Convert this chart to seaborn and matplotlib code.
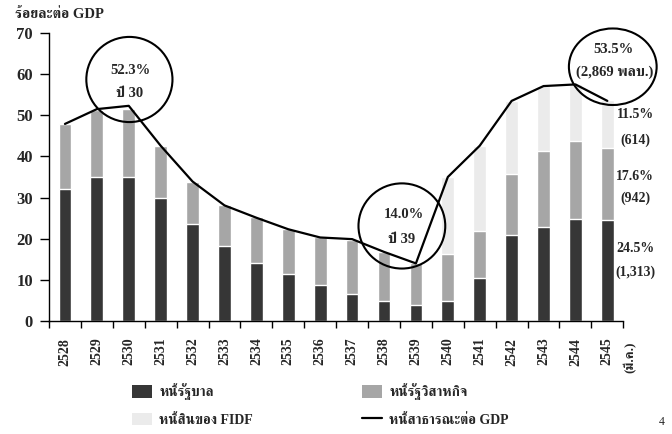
import numpy as np
import pandas as pd
import matplotlib
matplotlib.use("Agg")
import matplotlib.pyplot as plt
import matplotlib.font_manager as fm
from matplotlib.patches import Ellipse, Patch
from matplotlib.lines import Line2D
import seaborn as sns
from fontTools.ttLib import TTFont

# ---- data (percent of GDP) ----
years = ['2528', '2529', '2530', '2531', '2532', '2533', '2534', '2535', '2536',
         '2537', '2538', '2539', '2540', '2541', '2542', '2543', '2544', '2545']
gov_debt = [32.0, 34.9, 34.9, 29.8, 23.5, 18.2, 14.0, 11.4, 8.7,
            6.5, 4.8, 3.9, 4.8, 10.4, 20.8, 22.8, 24.7, 24.5]
soe_debt = [15.9, 16.4, 16.7, 12.8, 10.4, 9.9, 11.2, 10.9, 11.6,
            13.3, 12.0, 10.1, 11.4, 11.4, 15.0, 18.4, 19.1, 17.6]
fidf_debt = [0, 0, 0, 0, 0, 0, 0, 0, 0,
             0, 0, 0, 18.7, 20.8, 17.7, 15.9, 13.7, 11.5]
public_debt_gdp = [47.9, 51.5, 52.3, 42.6, 33.9, 28.1, 25.1, 22.3, 20.3,
                   19.9, 16.8, 14.0, 35.0, 42.6, 53.5, 57.1, 57.5, 53.5]

legend_labels = ['หนี้รัฐบาล', 'หนี้รัฐวิสาหกิจ', 'หนี้สินของ FIDF', 'หนี้สาธารณะต่อ GDP']
y_ticks = [0, 10, 20, 30, 40, 50, 60, 70]

DARK, MID, LIGHT = '#363636', '#a6a6a6', '#ebebeb'


def find_thai_family():
    serif, other = [], []
    for f in fm.fontManager.ttflist:
        try:
            cmap = TTFont(f.fname, fontNumber=0, lazy=True).getBestCmap()
        except Exception:
            continue
        if cmap and 0x0E2B in cmap and 0x0E35 in cmap and 0x0E49 in cmap:
            (serif if 'Serif' in f.name else other).append(f.name)
    found = serif + other
    return found[0] if found else 'DejaVu Sans'


sns.set_style('ticks')
thai = find_thai_family()
plt.rcParams['font.family'] = ['Liberation Serif', thai, 'DejaVu Sans']
plt.rcParams['font.weight'] = 'bold'

df = pd.DataFrame({'year': years, 'gov': gov_debt, 'soe': soe_debt, 'fidf': fidf_debt})
df['gov_soe'] = df['gov'] + df['soe']
df['total'] = df['gov_soe'] + df['fidf']

W, H = 672, 434
fig = plt.figure(figsize=(W / 100, H / 100), dpi=100)
x0, x1, y0, y1 = 49, 623.3, 321, 33
ax = fig.add_axes([x0 / W, (H - y0) / H, (x1 - x0) / W, (y0 - y1) / H])

# stacked bars drawn as overlapping cumulative heights
bar_kw = dict(data=df, x='year', width=0.4, saturation=1, errorbar=None, ax=ax)
sns.barplot(y='total', color=LIGHT, **bar_kw)
sns.barplot(y='gov_soe', color=MID, **bar_kw)
sns.barplot(y='gov', color=DARK, **bar_kw)

sns.lineplot(x=np.arange(len(years)), y=public_debt_gdp, color='black',
             linewidth=1.6, ax=ax)

ax.set_xlim(-0.5, len(years) - 0.5)
ax.set_ylim(0, 70)
ax.set_xlabel('')
ax.set_ylabel('')
sns.despine(ax=ax)
for side in ('left', 'bottom'):
    ax.spines[side].set_linewidth(1.0)
    ax.spines[side].set_color('black')

ax.set_yticks(y_ticks)
ax.set_yticklabels([str(v) for v in y_ticks], fontsize=12, fontweight='bold')
ax.tick_params(axis='y', length=6.5, width=1.0, pad=5, color='black')

ax.set_xticks(np.arange(-0.5, len(years), 1.0))
ax.set_xticklabels([])
ax.set_xticks(np.arange(len(years)), minor=True)
ax.set_xticklabels(years, minor=True, rotation=90, fontsize=10, fontweight='bold')
ax.tick_params(axis='x', which='major', length=5, width=1.0, color='black')
ax.tick_params(axis='x', which='minor', length=0, pad=12)
ax.text(17.72, -5.0, '(มี.ค.)', rotation=90, ha='center', va='top',
        fontsize=9.5, fontweight='bold')

# highlight circles
for cx, cy, w, h in [(2.02, 58.7, 2.70, 20.7), (10.56, 23.1, 2.72, 20.7),
                     (17.17, 61.8, 2.75, 18.6)]:
    ax.add_patch(Ellipse((cx, cy), w, h, fill=False, edgecolor='black',
                         linewidth=1.5, clip_on=False, zorder=5))

note_kw = dict(ha='center', va='center', fontsize=10.5, fontweight='bold', zorder=6)
ax.text(2.04, 61.0, '52.3%', **note_kw)
ax.text(2.04, 55.2, 'ปี 30', **note_kw)
ax.text(10.61, 25.8, '14.0%', **note_kw)
ax.text(10.56, 19.7, 'ปี 39', **note_kw)
ax.text(17.19, 65.9, '53.5%', **note_kw)
ax.text(17.24, 60.4, '(2,869 พลบ.)', **note_kw)

side_kw = dict(ha='center', va='center', fontsize=10, fontweight='bold')
for yy, s in [(50.1, '11.5%'), (44.0, '(614)'), (35.1, '17.6%'), (29.9, '(942)'),
              (17.7, '24.5%'), (11.9, '(1,313)')]:
    ax.text(17.87, yy, s, **side_kw)

fig.text(15 / W, 1 - 15 / H, 'ร้อยละต่อ GDP', ha='left', va='center',
         fontsize=10.5, fontweight='bold')
fig.text(662 / W, 1 - 422 / H, '4', ha='center', va='center', fontsize=8.5,
         fontweight='normal')

# legend in two columns
leg_kw = dict(frameon=False, handlelength=1.45, handleheight=1.0,
              handletextpad=0.5, labelspacing=0.9, borderpad=0, borderaxespad=0,
              loc='center left', bbox_transform=fig.transFigure,
              prop={'weight': 'bold', 'size': 10})
h_gov = Patch(facecolor=DARK, edgecolor='none')
h_soe = Patch(facecolor=MID, edgecolor='none')
h_fidf = Patch(facecolor=LIGHT, edgecolor='none')
h_line = Line2D([], [], color='black', linewidth=1.6)
leg1 = ax.legend([h_gov, h_fidf], [legend_labels[0], legend_labels[2]],
                 bbox_to_anchor=(132 / W, 1 - 405 / H), **leg_kw)
ax.add_artist(leg1)
ax.legend([h_soe, h_line], [legend_labels[1], legend_labels[3]],
          bbox_to_anchor=(362 / W, 1 - 405 / H), **leg_kw)

fig.savefig('out.png', dpi=100)
